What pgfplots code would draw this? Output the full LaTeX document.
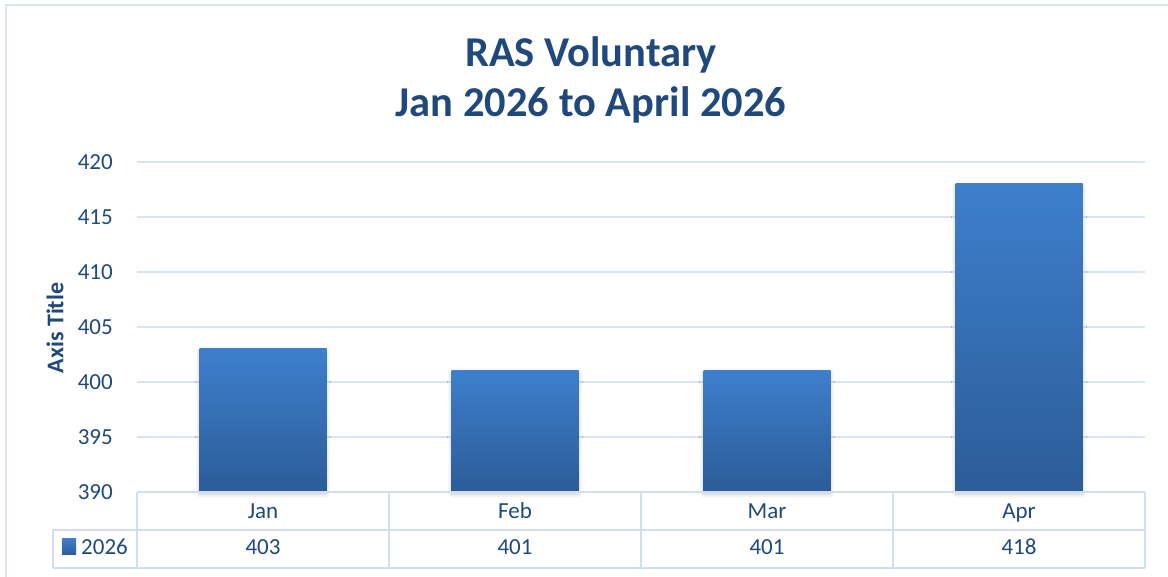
\documentclass[border=0pt]{standalone}
\usepackage{fontspec}
\setmainfont{Carlito}
\usepackage{pgfplots}
\pgfplotsset{compat=1.18}
\usepackage{pgfplotstable}
\usetikzlibrary{shadows.blur}

\definecolor{textc}{RGB}{31,73,125}
\definecolor{gridc}{RGB}{217,228,242}
\definecolor{tablec}{RGB}{208,222,240}
\definecolor{framec}{RGB}{218,228,241}
\definecolor{barTop}{RGB}{61,127,204}
\definecolor{barMid}{RGB}{58,121,196}
\definecolor{barBot}{RGB}{44,92,152}

% monthly counts, 2026
\pgfplotstableread{
x lab v
0 Jan 403
1 Feb 401
2 Mar 401
3 Apr 418
}\rasdata

\pgfplotsset{rasbar/.style={ybar, bar width=127bp, draw=none,
  top color=barTop, middle color=barMid, bottom color=barBot,
  blur shadow={shadow xshift=0bp, shadow yshift=-2bp, shadow blur radius=4bp, shadow opacity=25}}}

\begin{document}
\begin{tikzpicture}
\begin{scope}[x=1bp,y=1bp]
  \useasboundingbox (0,0) rectangle (1168,577);
  \draw[framec, line width=1.6bp] (6,572) rectangle (1200,-30);
  \node[anchor=base, text=textc, font=\fontsize{42.5bp}{50bp}\selectfont\bfseries] at (591,510) {RAS Voluntary};
  \node[anchor=base, text=textc, font=\fontsize{42.5bp}{50bp}\selectfont\bfseries] at (591,460) {Jan 2026 to April 2026};
  \node[rotate=90, anchor=center, text=textc, font=\fontsize{24bp}{28bp}\selectfont\bfseries] at (55,249) {Axis Title};
  % data table grid
  \begin{scope}[tablec, line width=1.4bp]
    \draw (53,47) -- (1145,47);
    \draw (53,9) -- (1145,9);
    \draw (53,47) -- (53,9);
    \foreach \xx in {137,389,641,893,1145} \draw (\xx,85) -- (\xx,9);
  \end{scope}
  \shade[top color=barTop, bottom color=barBot] (62,22) rectangle (76,38);
  \node[anchor=base west, inner sep=0pt, text=textc, font=\fontsize{23bp}{27bp}\selectfont] at (81,22) {2026};
\end{scope}

\begin{axis}[
  at={(137bp,85bp)}, anchor=south west,
  width=1008bp, height=330bp, scale only axis,
  xmin=-0.5, xmax=3.5, ymin=390, ymax=420,
  y coord trafo/.code={\pgfmathparse{#1-390}},
  y coord inv trafo/.code={\pgfmathparse{#1+390}},
  ytick={390,395,...,420},
  xtick={0,1,2,3},
  xticklabels from table={\rasdata}{lab},
  extra x ticks={0,1,2,3},
  extra x tick labels={403,401,401,418},
  extra x tick style={xticklabel style={yshift=-36bp}, grid=none},
  axis line style={draw=none},
  major tick length=0pt,
  ymajorgrids, xmajorgrids=false,
  grid style={gridc, line width=1.4bp},
  /pgf/number format/assume math mode=true,
  ticklabel style={text=textc, font=\fontsize{23bp}{27bp}\selectfont, inner sep=0pt},
  yticklabel style={anchor=east, xshift=-24bp},
  xticklabel style={anchor=base, yshift=-27bp},
  clip=false,
]
  % one plot per bar so each bar gets its own gradient
  \addplot[rasbar, skip coords between index={1}{4}] table[x=x, y=v] {\rasdata};
  \addplot[rasbar, skip coords between index={0}{1}, skip coords between index={2}{4}] table[x=x, y=v] {\rasdata};
  \addplot[rasbar, skip coords between index={0}{2}, skip coords between index={3}{4}] table[x=x, y=v] {\rasdata};
  \addplot[rasbar, skip coords between index={0}{3}] table[x=x, y=v] {\rasdata};
  \draw[tablec, line width=1.4bp] (rel axis cs:0,0) -- (rel axis cs:1,0);
\end{axis}
\end{tikzpicture}
\end{document}
